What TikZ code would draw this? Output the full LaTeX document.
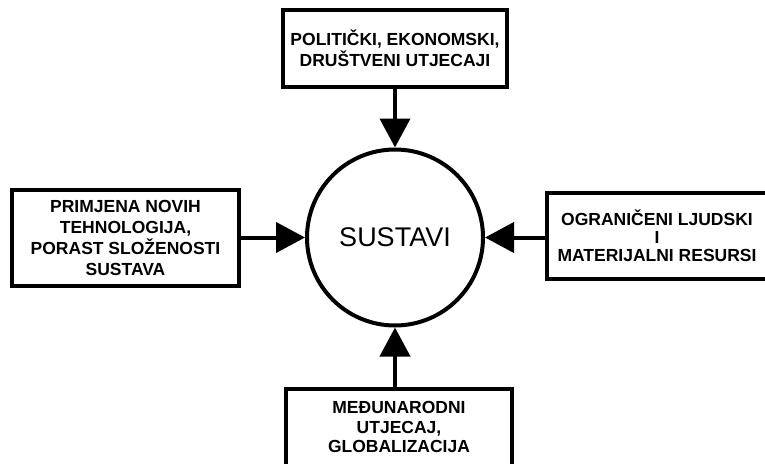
\documentclass[tikz,border=0pt]{standalone}
\usepackage{fontspec}
\setmainfont{Liberation Sans}
\usetikzlibrary{arrows.meta}
\tikzset{
  factorbox/.style={draw, line width=4pt, fill=white, inner sep=0pt, align=center,
    font=\fontsize{17.5}{21}\selectfont\bfseries},
  core/.style={draw, circle, line width=4pt, inner sep=0pt, minimum size=176pt,
    font=\fontsize{27}{32}\selectfont},
  push/.style={line width=4pt, -{Triangle[length=29pt,width=30pt]}},
}
\begin{document}
\begin{tikzpicture}[x=1pt,y=-1pt]
  \useasboundingbox (0,0) rectangle (765,463);
  \clip (0,0) rectangle (765,463);

  % central system
  \node[core] (c) at (395,237.5) {SUSTAVI};

  % surrounding influences
  \node[factorbox, minimum width=224pt, minimum height=77pt] (top) at (395,48.5)
    {POLITIČKI, EKONOMSKI,\\DRUŠTVENI UTJECAJI};
  \node[factorbox, minimum width=227pt, minimum height=96pt] (left) at (125.5,238)
    {PRIMJENA NOVIH\\TEHNOLOGIJA,\\PORAST SLOŽENOSTI\\SUSTAVA};
  \node[factorbox, minimum width=230pt, minimum height=86pt,
        font=\fontsize{17.5}{18}\selectfont\bfseries] (right) at (662,236)
    {\hspace*{-10pt}OGRANIČENI LJUDSKI\\\hspace*{-10pt}I\\\hspace*{-10pt}MATERIJALNI RESURSI};
  \node[factorbox, minimum width=226pt, minimum height=90pt,
        font=\fontsize{17.5}{19.5}\selectfont\bfseries] (bottom) at (399,434)
    {MEĐUNARODNI\\UTJECAJ,\\GLOBALIZACIJA\\[-6pt]\mbox{}};

  % influences acting on the system
  \draw[push] (c.north |- top.south) -- (c.north);
  \draw[push] (left.east |- c.west) -- (c.west);
  \draw[push] (right.west |- c.east) -- (c.east);
  \draw[push] (c.south |- bottom.north) -- (c.south);
\end{tikzpicture}
\end{document}
